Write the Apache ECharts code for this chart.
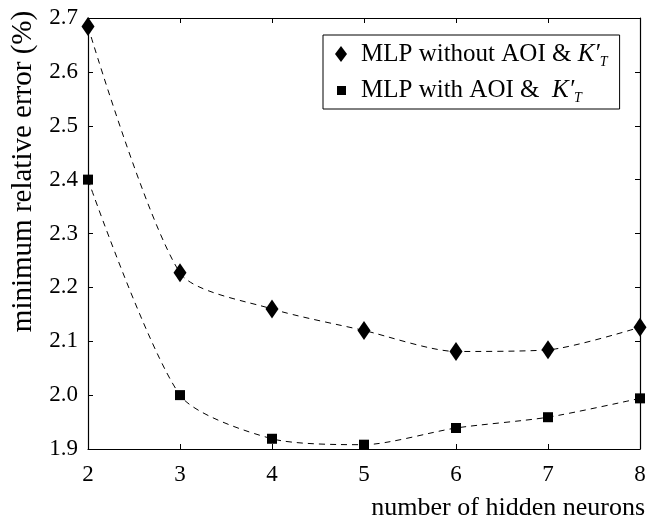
<!DOCTYPE html>
<html><head><meta charset="utf-8">
<script src="https://cdn.jsdelivr.net/npm/echarts@6/dist/echarts.min.js"></script>
<style>html,body{margin:0;padding:0;background:#fff}#c{width:649px;height:521px}</style>
</head><body><div id="c"></div>
<script>
const neurons = [2, 3, 4, 5, 6, 7, 8];
const withoutAOI = [2.684, 2.227, 2.16, 2.12, 2.081, 2.084, 2.126];
const withAOI = [2.40, 2.00, 1.919, 1.908, 1.939, 1.959, 1.994];
const yTicks = [1.9, 2.0, 2.1, 2.2, 2.3, 2.4, 2.5, 2.6, 2.7];
const xTicks = [2, 3, 4, 5, 6, 7, 8];
const seriesNames = ['MLP without AOI', 'MLP with AOI'];

const F = 'Liberation Serif';
const chart = echarts.init(document.getElementById('c'));
const axisLine = {show: true, lineStyle: {color: '#000', width: 1.2}};
const tick = {show: true, inside: true, length: 5, lineStyle: {color: '#000'}};
chart.setOption({
  animation: false,
  backgroundColor: '#fff',
  grid: {left: 88, right: 9, top: 18, bottom: 72, containLabel: false, outerBoundsMode: 'none'},
  legend: {
    orient: 'vertical', left: 323, top: 35,
    borderColor: '#000', borderWidth: 1, padding: [4, 12, 4, 12],
    itemGap: 6, itemWidth: 12, itemHeight: 16,
    data: [
      {name: seriesNames[0], icon: 'path://M6,0L12,8L6,16L0,8Z'},
      {name: seriesNames[1], icon: 'path://M0,0M12,16M2,4L11,4L11,13L2,13Z'}
    ],
    formatter: function (n) {
      return n === seriesNames[0] ? 'MLP without AOI & {k|K′}{t|T}' : 'MLP with AOI &  {k|K′}{t|T}';
    },
    textStyle: {
      fontFamily: F, fontSize: 25, color: '#000', lineHeight: 30, padding: [0, 0, 0, 9],
      rich: {
        k: {fontFamily: F, fontStyle: 'italic', fontSize: 25, color: '#000', lineHeight: 30},
        t: {fontFamily: F, fontStyle: 'italic', fontSize: 14, color: '#000', lineHeight: 30, verticalAlign: 'bottom', padding: [12, 0, 0, 0]}
      }
    }
  },
  xAxis: [{
    type: 'value', min: 2, max: 8, interval: 1,
    name: 'number of hidden neurons', nameLocation: 'end', nameGap: 5,
    nameTextStyle: {fontFamily: F, fontSize: 26, color: '#000', align: 'right', verticalAlign: 'top', padding: [46, 0, 0, 0]},
    axisLine: axisLine, axisTick: tick, splitLine: {show: false},
    axisLabel: {fontFamily: F, fontSize: 23, color: '#000', margin: 14, customValues: xTicks}
  }, {
    type: 'value', min: 2, max: 8, interval: 1, position: 'top',
    axisLine: axisLine, axisTick: tick, axisLabel: {show: false}, splitLine: {show: false}
  }],
  yAxis: [{
    type: 'value', min: 1.9, max: 2.7, interval: 0.1,
    name: 'minimum relative error (%)', nameLocation: 'middle', nameGap: 48,
    nameTextStyle: {fontFamily: F, fontSize: 29, color: '#000', padding: [0, 0, 0, 124]},
    axisLine: axisLine, axisTick: tick, splitLine: {show: false},
    axisLabel: {fontFamily: F, fontSize: 23, color: '#000', margin: 10,
      customValues: yTicks, formatter: v => v.toFixed(1)}
  }, {
    type: 'value', min: 1.9, max: 2.7, interval: 0.1, position: 'right',
    axisLine: axisLine, axisTick: tick, axisLabel: {show: false}, splitLine: {show: false}
  }],
  series: [{
    name: seriesNames[0], type: 'line', smooth: 0.25,
    data: neurons.map((x, i) => [x, withoutAOI[i]]),
    symbol: 'diamond', symbolSize: [13, 19],
    itemStyle: {color: '#000'},
    lineStyle: {color: '#000', width: 1, type: [6, 5]},
    clip: false
  }, {
    name: seriesNames[1], type: 'line', smooth: 0.25,
    data: neurons.map((x, i) => [x, withAOI[i]]),
    symbol: 'rect', symbolSize: 10,
    itemStyle: {color: '#000'},
    lineStyle: {color: '#000', width: 1, type: [6, 5]},
    clip: false
  }]
});
</script></body></html>
